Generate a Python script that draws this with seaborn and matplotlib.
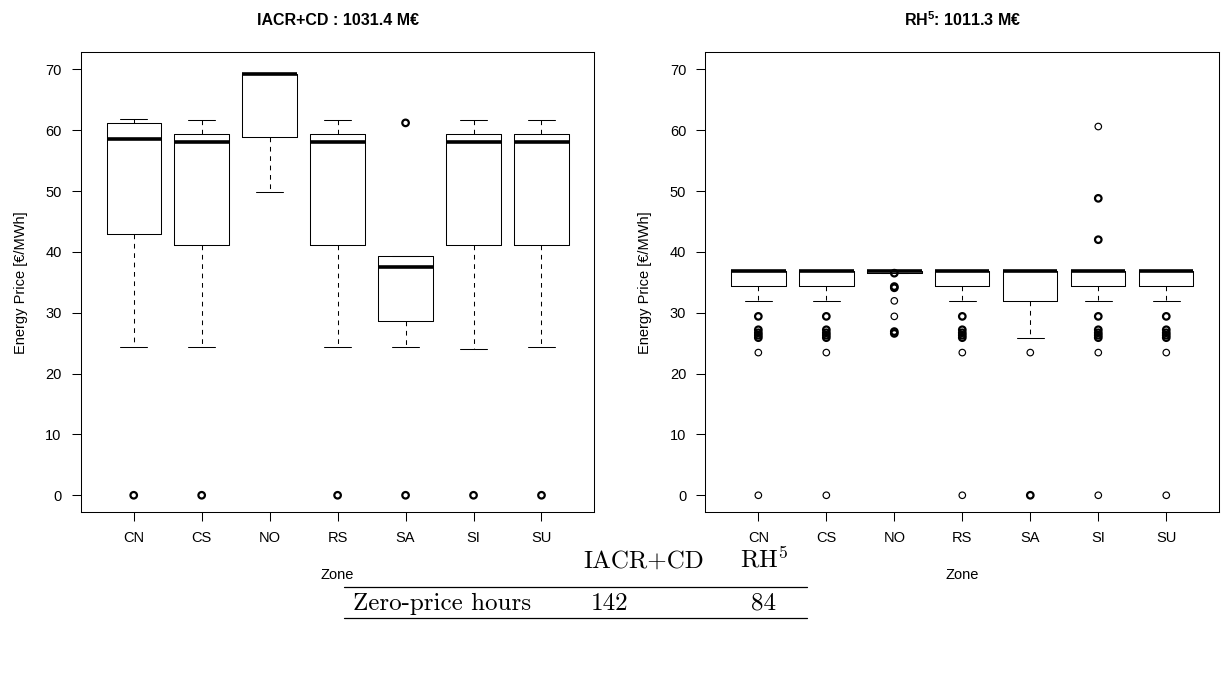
import matplotlib
matplotlib.use("Agg")
import matplotlib.pyplot as plt
import seaborn as sns
import pandas as pd
from matplotlib.lines import Line2D

# ---------------- data ----------------
zones = ["CN", "CS", "NO", "RS", "SA", "SI", "SU"]

iacr_title = "IACR+CD : 1031.4 M€"
iacr_q1 = [42.9, 41.2, 58.9, 41.2, 28.7, 41.2, 41.2]
iacr_med = [58.5, 58.0, 69.2, 58.0, 37.5, 58.0, 58.0]
iacr_q3 = [61.2, 59.4, 69.2, 59.4, 39.3, 59.4, 59.4]
iacr_lo = [24.4, 24.4, 49.9, 24.4, 24.4, 24.1, 24.4]
iacr_hi = [61.8, 61.6, 69.2, 61.6, 39.3, 61.6, 61.6]
iacr_fliers = [[0.0], [0.0], [], [0.0], [0.0, 61.2], [0.0], [0.0]]
iacr_fliers_dense = [[True], [True], [], [True], [True, True], [True], [True]]

rh_title = "RH$^5$: 1011.3 M€"
rh_q1 = [34.4, 34.4, 36.6, 34.4, 31.95, 34.4, 34.4]
rh_med = [36.85, 36.85, 36.85, 36.85, 36.85, 36.85, 36.85]
rh_q3 = [36.9, 36.9, 36.9, 36.9, 36.9, 36.9, 36.9]
rh_lo = [31.95, 31.95, 36.6, 31.95, 25.8, 31.95, 31.95]
rh_hi = [36.9, 36.9, 36.9, 36.9, 36.9, 36.9, 36.9]
rh_low_cluster = [29.4, 27.2, 26.7, 26.3, 25.9, 23.45, 0.0]
rh_fliers = [
    rh_low_cluster,
    rh_low_cluster,
    [36.5, 34.3, 34.1, 31.95, 29.4, 26.9, 26.6],
    rh_low_cluster,
    [23.45, 0.0],
    [60.6, 48.8, 42.0] + rh_low_cluster,
    rh_low_cluster,
]
rh_cluster_dense = [True, True, True, True, True, False, False]
rh_fliers_dense = [
    rh_cluster_dense,
    rh_cluster_dense,
    [True, True, True, False, False, True, True],
    rh_cluster_dense,
    [False, True],
    [False, True, True] + rh_cluster_dense,
    rh_cluster_dense,
]

table_cols = ["IACR+CD", "RH$^5$"]
table_row = "Zero-price hours"
table_vals = ["142", "84"]

# ---------------- style ----------------
sns.set_style("white")
plt.rcParams["font.family"] = ["Liberation Sans", "DejaVu Sans"]
plt.rcParams["mathtext.default"] = "regular"
plt.rcParams["text.color"] = "black"
plt.rcParams["axes.labelcolor"] = "black"
plt.rcParams["xtick.color"] = "black"
plt.rcParams["ytick.color"] = "black"

W, H = 1224, 675
fig = plt.figure(figsize=(W / 100, H / 100), dpi=100)


def px_axes(x0, x1, y0, y1):
    return fig.add_axes([x0 / W, 1 - y1 / H, (x1 - x0) / W, (y1 - y0) / H])


axL = px_axes(80.7, 594.5, 52.3, 512.3)
axR = px_axes(705.3, 1219.3, 52.3, 512.3)

LW = 0.75


def draw_panel(ax, title, q1, med, q3, lo, hi, fliers, dense):
    positions = list(range(1, len(zones) + 1))
    stats = []
    for z, a, m, b, l, h in zip(zones, q1, med, q3, lo, hi):
        stats.append(dict(label=z, q1=a, med=m, q3=b, whislo=l, whishi=h, fliers=[]))
    ax.bxp(stats, positions=positions, widths=0.8, showfliers=False,
           boxprops=dict(color="black", linewidth=LW),
           whiskerprops=dict(color="black", linewidth=LW, linestyle=(0, (4.5, 4.5))),
           capprops=dict(color="black", linewidth=LW),
           medianprops=dict(color="black", linewidth=2.6, solid_capstyle="butt"))

    rows = []
    for p, vals, ds in zip(positions, fliers, dense):
        for v, d in zip(vals, ds):
            rows.append(dict(pos=p, value=v, dense=d))
    df = pd.DataFrame(rows, columns=["pos", "value", "dense"])
    for flag, lw in [(False, 0.85), (True, 1.6)]:
        sub = df[df["dense"] == flag]
        if len(sub):
            sns.scatterplot(data=sub, x="pos", y="value", ax=ax, marker="o", s=22,
                            facecolors="none", edgecolor="black", linewidth=lw,
                            legend=False, zorder=3)

    ax.set_xlim(0.22, 7.78)
    ax.set_ylim(-2.8, 72.8)
    ax.set_xticks(positions)
    ax.set_xticklabels(zones)
    ax.set_yticks(range(0, 71, 10))
    ax.tick_params(axis="both", direction="out", length=6.7, width=LW,
                   colors="black", labelsize=10.5, pad=7, bottom=True, left=True)
    for sp in ax.spines.values():
        sp.set_color("black")
        sp.set_linewidth(LW)
        sp.set_visible(True)

    ax.set_xlabel("Zone", fontsize=10.5, color="black")
    ax.xaxis.label.set_va("center")
    ax.xaxis.set_label_coords(0.5, -(575 - 512.3) / 460)
    ax.set_ylabel("Energy Price [€/MWh]", fontsize=10.5, color="black")
    ax.yaxis.label.set_rotation_mode("default")
    ax.yaxis.label.set_va("center")
    ax.yaxis.set_label_coords(-(80.7 - 20.7) / 513.8, 0.5)
    ax.set_title(title, fontsize=11.5, fontweight="bold", color="black",
                 y=1 + (52.3 - 20) / 460, va="center", pad=0)


draw_panel(axL, iacr_title, iacr_q1, iacr_med, iacr_q3, iacr_lo, iacr_hi,
           iacr_fliers, iacr_fliers_dense)
draw_panel(axR, rh_title, rh_q1, rh_med, rh_q3, rh_lo, rh_hi,
           rh_fliers, rh_fliers_dense)

# ---------------- table ----------------
tkw = dict(family="cmr10", math_fontfamily="cm", size=18, color="black", va="baseline")
fig.text(644 / W, 1 - 568 / H, table_cols[0], ha="center", **tkw)
fig.text(764 / W, 1 - 568 / H, table_cols[1], ha="center", **tkw)
fig.text(353 / W, 1 - 610 / H, table_row, ha="left", **tkw)
fig.text(610 / W, 1 - 610 / H, table_vals[0], ha="center", **tkw)
fig.text(763 / W, 1 - 610 / H, table_vals[1], ha="center", **tkw)
for ypx in (587, 618):
    fig.add_artist(Line2D([344 / W, 807 / W], [1 - ypx / H, 1 - ypx / H],
                          transform=fig.transFigure, color="black", linewidth=0.9))

fig.savefig("out.png", dpi=100)
